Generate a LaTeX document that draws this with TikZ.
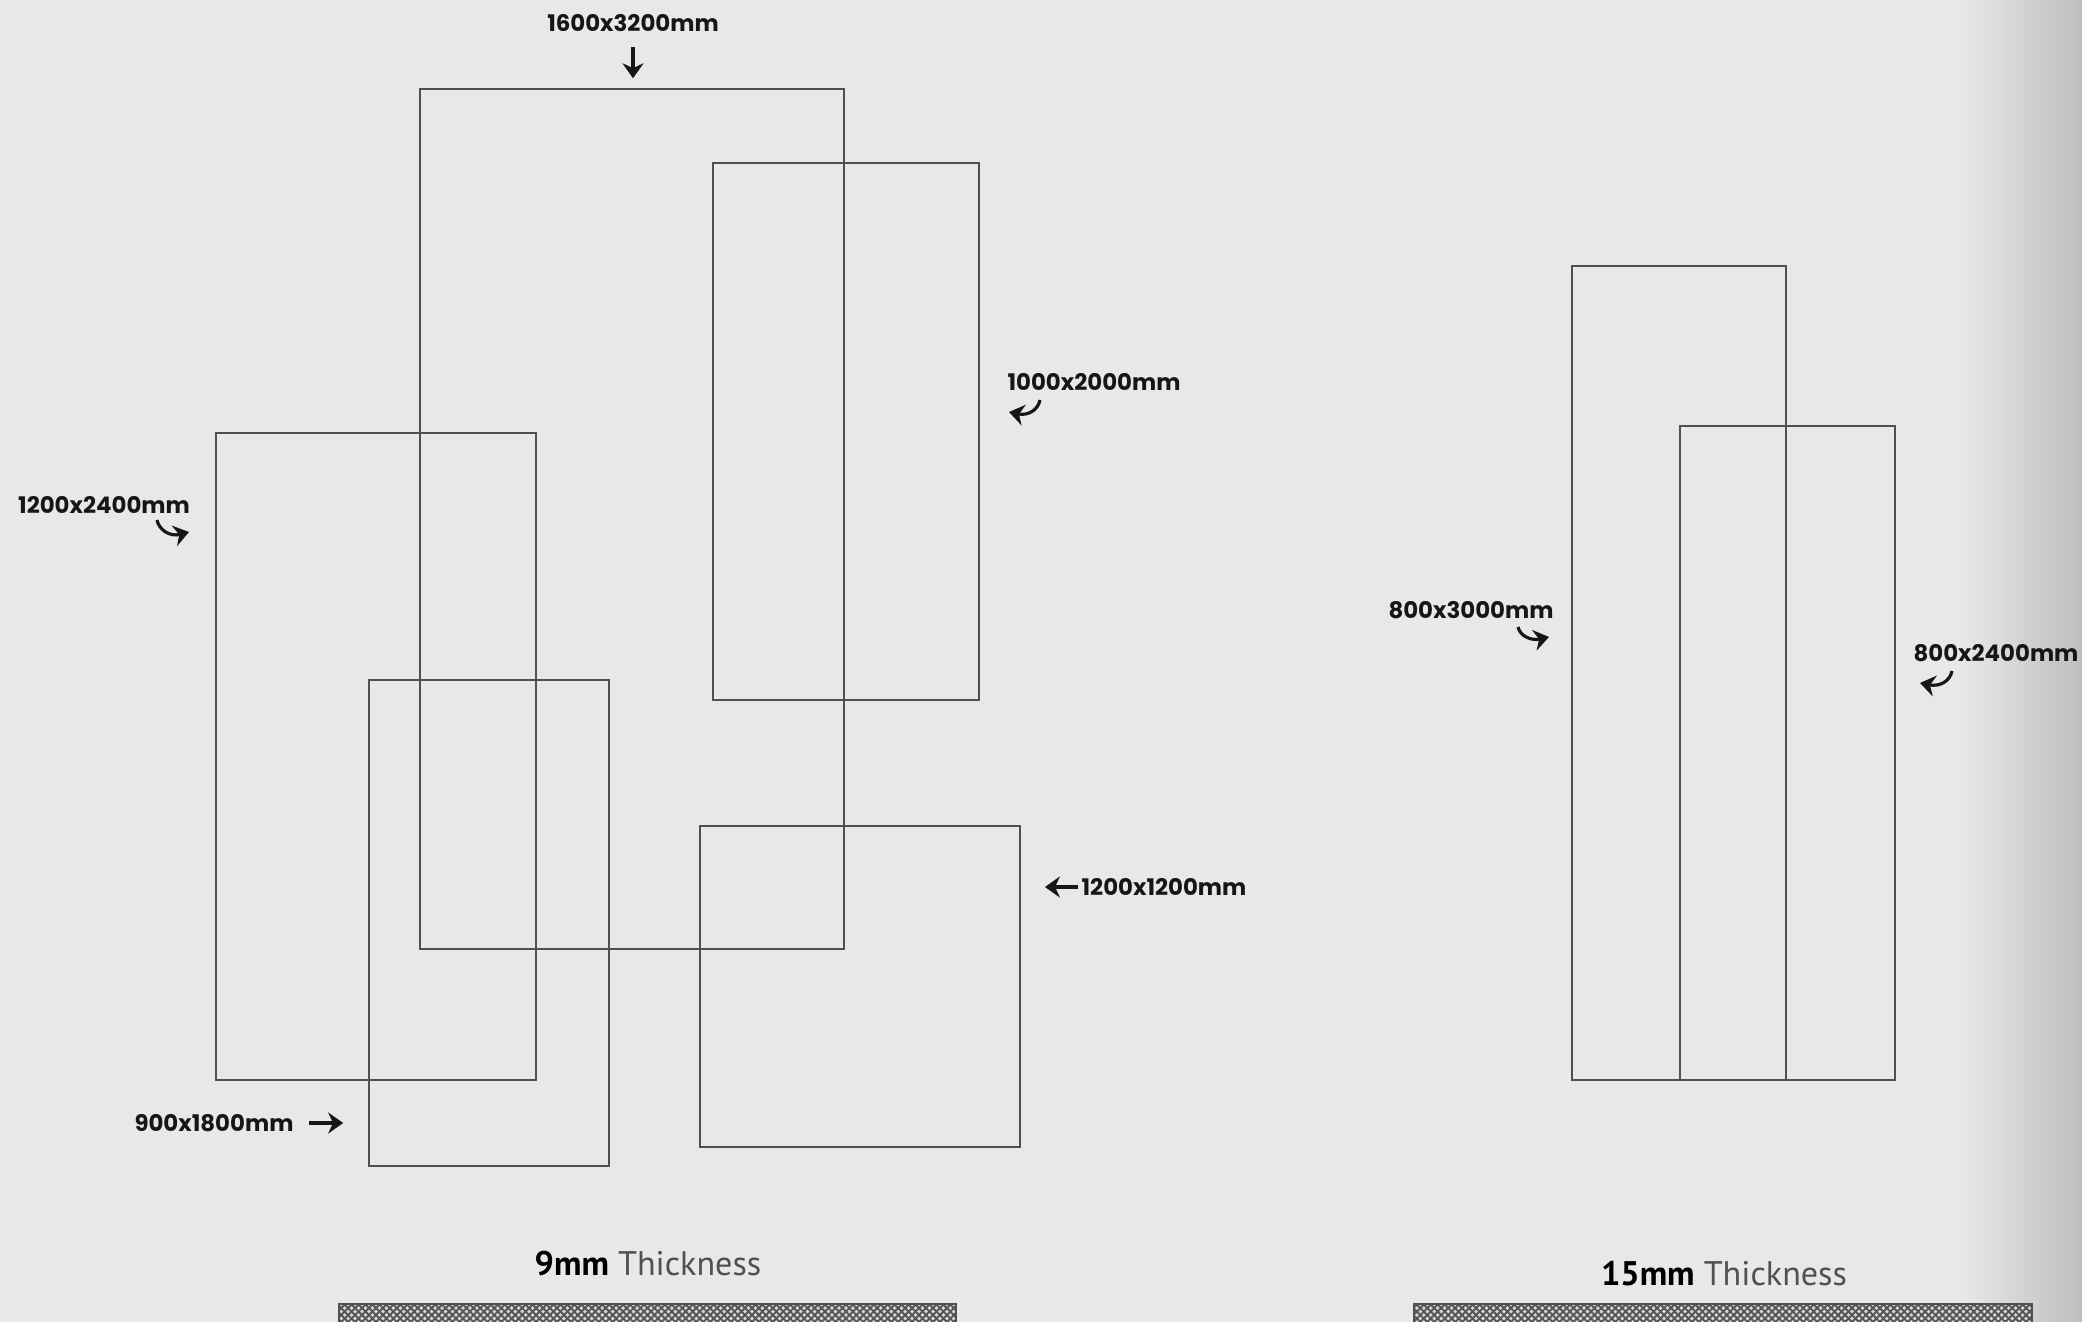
\documentclass[tikz,border=0pt]{standalone}
\usepackage{fontspec}
\setmainfont{Poppins}
\newfontfamily\dinfont{PT Sans}
\usetikzlibrary{arrows.meta, patterns.meta, fit}
\definecolor{bg}{RGB}{233,232,233}
\definecolor{rightshade}{RGB}{190,190,193}
\definecolor{edge}{RGB}{80,80,80}
\definecolor{ink}{RGB}{22,22,22}
\definecolor{meshlight}{RGB}{215,215,215}
\definecolor{meshdark}{RGB}{85,85,85}

\begin{document}
\begin{tikzpicture}[x=0.01cm, y=-0.01cm,
		panel/.style={draw=edge, line width=0.55pt, inner sep=0pt},
		size/.style={text=ink, font=\bfseries\fontsize{6.5}{8}\selectfont, inner sep=0pt},
		tip/.style={-{Stealth[length=1.5mm, width=2.1mm]}, ink, line width=0.9pt},
		thklabel/.style={font=\dinfont\fontsize{9.7}{11}\selectfont, inner sep=0pt},
		meshbar/.style={fill=meshlight}]

		\fill [bg]	(0, 0) rectangle (2082, 1322);
		\shade [left color=bg, right color=rightshade]	(1960, 0) rectangle (2082, 1322);
		\useasboundingbox	(0, 0) rectangle (2082, 1322);

		% 9mm panels
		\node [panel, fit={(420, 89) (844, 949)}]	(r1600) {};
		\node [panel, fit={(713, 163) (979, 700)}]	(r1000) {};
		\node [panel, fit={(216, 433) (536, 1080)}]	(r1200b) {};
		\node [panel, fit={(369, 680) (609, 1166)}]	(r900) {};
		\node [panel, fit={(700, 826) (1020, 1147)}]	(r1200s) {};

		% 15mm panels
		\node [panel, fit={(1572, 266) (1786, 1080)}]	(r800a) {};
		\node [panel, fit={(1680, 426) (1895, 1080)}]	(r800b) {};

		\node [size] (l1600)	at (633, 23)	{1600x3200mm};
		\node [size] (l1200b)	at (104, 505)	{1200x2400mm};
		\node [size] (l1000)	at (1094, 382)	{1000x2000mm};
		\node [size] (l1200s)	at (1164, 887)	{1200x1200mm};
		\node [size] (l900)	at (214, 1123)	{900x1800mm};
		\node [size] (l800a)	at (1471, 610)	{800x3000mm};
		\node [size] (l800b)	at (1996, 653)	{800x2400mm};

		\draw [tip]	(l1600.south) ++(0, 15) -- ++(0, 31);
		\draw [tip]	(l1200s.west) ++(-3, 0) -- ++(-33, 0);
		\draw [tip]	(l900.east) ++(15, 0) -- ++(34, 0);

		\coordinate (t1200b) at (157, 520);	\coordinate (h1200b) at (189, 532);
		\coordinate (t1000) at (1040, 400);	\coordinate (h1000) at (1009, 412);
		\coordinate (t800a) at (1518, 627);	\coordinate (h800a) at (1549, 637);
		\coordinate (t800b) at (1952, 671);	\coordinate (h800b) at (1920, 683);

		\draw [tip]	(t1200b) .. controls (159, 530) and (170, 537) .. (h1200b);
		\draw [tip]	(t1000) .. controls (1038, 410) and (1028, 416) .. (h1000);
		\draw [tip]	(t800a) .. controls (1520, 636) and (1531, 641) .. (h800a);
		\draw [tip]	(t800b) .. controls (1950, 681) and (1940, 687) .. (h800b);

		\node [thklabel] (th9)	at (648, 1264)	{\textbf{9mm} \textcolor{edge}{Thickness}};
		\node [thklabel] (th15)	at (1724, 1274)	{\textbf{15mm} \textcolor{edge}{Thickness}};

		\fill [meshbar]	(339, 1304) rectangle (956, 1322);
		\fill [pattern={Lines[angle=45, distance=1.4pt, line width=0.55pt]}, pattern color=meshdark]	(339, 1304) rectangle (956, 1322);
		\fill [pattern={Lines[angle=-45, distance=1.4pt, line width=0.55pt]}, pattern color=meshdark]	(339, 1304) rectangle (956, 1322);
		\draw [edge, line width=0.5pt]	(339, 1322) -- (339, 1304) -- (956, 1304) -- (956, 1322);

		\fill [meshbar]	(1414, 1304) rectangle (2032, 1322);
		\fill [pattern={Lines[angle=45, distance=1.4pt, line width=0.55pt]}, pattern color=meshdark]	(1414, 1304) rectangle (2032, 1322);
		\fill [pattern={Lines[angle=-45, distance=1.4pt, line width=0.55pt]}, pattern color=meshdark]	(1414, 1304) rectangle (2032, 1322);
		\draw [edge, line width=0.5pt]	(1414, 1322) -- (1414, 1304) -- (2032, 1304) -- (2032, 1322);
\end{tikzpicture}
\end{document}
